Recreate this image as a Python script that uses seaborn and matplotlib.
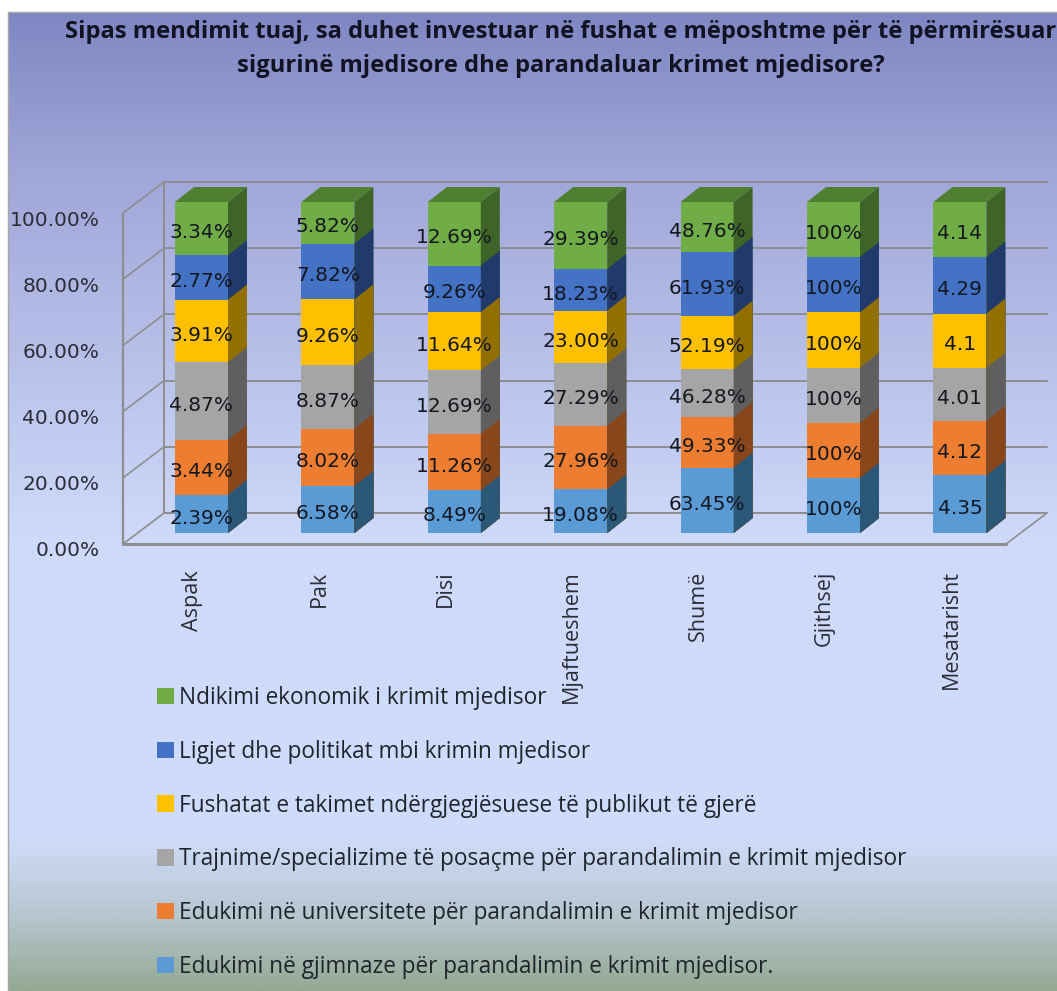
import matplotlib
matplotlib.use('Agg')
import matplotlib.pyplot as plt
import matplotlib.transforms as mtrans
from matplotlib.colors import LinearSegmentedColormap
import numpy as np
import pandas as pd
import seaborn as sns

title = 'Sipas mendimit tuaj, sa duhet investuar në fushat e mëposhtme për të përmirësuar\nsigurinë mjedisore dhe parandaluar krimet mjedisore?'
categories = ['Aspak', 'Pak', 'Disi', 'Mjaftueshem', 'Shumë', 'Gjithsej', 'Mesatarisht']

# raw values, the chart stacks them to 100%
gjimnaze = [2.39, 6.58, 8.49, 19.08, 63.45, 100, 4.35]
universitete = [3.44, 8.02, 11.26, 27.96, 49.33, 100, 4.12]
trajnime = [4.87, 8.87, 12.69, 27.29, 46.28, 100, 4.01]
fushata = [3.91, 9.26, 11.64, 23.00, 52.19, 100, 4.1]
ligjet = [2.77, 7.82, 9.26, 18.23, 61.93, 100, 4.29]
ndikimi = [3.34, 5.82, 12.69, 29.39, 48.76, 100, 4.14]

gjimnaze_txt = ['2.39%', '6.58%', '8.49%', '19.08%', '63.45%', '100%', '4.35']
universitete_txt = ['3.44%', '8.02%', '11.26%', '27.96%', '49.33%', '100%', '4.12']
trajnime_txt = ['4.87%', '8.87%', '12.69%', '27.29%', '46.28%', '100%', '4.01']
fushata_txt = ['3.91%', '9.26%', '11.64%', '23.00%', '52.19%', '100%', '4.1']
ligjet_txt = ['2.77%', '7.82%', '9.26%', '18.23%', '61.93%', '100%', '4.29']
ndikimi_txt = ['3.34%', '5.82%', '12.69%', '29.39%', '48.76%', '100%', '4.14']

names = ['Edukimi në gjimnaze për parandalimin e krimit mjedisor.',
         'Edukimi në universitete për parandalimin e krimit mjedisor',
         'Trajnime/specializime të posaçme për parandalimin e krimit mjedisor',
         'Fushatat e takimet ndërgjegjësuese të publikut të gjerë',
         'Ligjet dhe politikat mbi krimin mjedisor',
         'Ndikimi ekonomik i krimit mjedisor']
front_colors = ['#5b9bd5', '#ed7d31', '#a5a5a5', '#ffc000', '#4472c4', '#70ad47']
side_colors = ['#2c5878', '#87471b', '#5f5f5f', '#927000', '#1f3a6b', '#3f6428']
top_color = '#4f7f31'
yticks = [0, 20, 40, 60, 80, 100]
ytick_labels = ['0.00%', '20.00%', '40.00%', '60.00%', '80.00%', '100.00%']

W, H = 1057, 991
sns.set_style('white')
plt.rcParams['font.family'] = ['DejaVu Sans']

fig = plt.figure(figsize=(W / 100, H / 100), dpi=100, facecolor='white')

# background gradient
bg = fig.add_axes([8 / W, 0, 1 - 8 / W, (H - 12) / H], zorder=0)
stops = [(0, '#7f87c3'), (0.16, '#a0a6d8'), (0.54, '#cfdafa'), (0.845, '#d0dcfb'),
         (0.925, '#b6c7d0'), (1, '#94a994')]
cmap = LinearSegmentedColormap.from_list('bg', stops)
bg.imshow(np.linspace(0, 1, 500).reshape(-1, 1), aspect='auto', cmap=cmap)
bg.axis('off')
fig.add_artist(plt.Line2D([8 / W, 1], [1 - 12 / H] * 2, color='#a8a8a8', lw=1))
fig.add_artist(plt.Line2D([8 / W, 8 / W], [0, 1 - 12 / H], color='#a8a8a8', lw=1))

# pixel layout of the 3d box
left, right, floor_y, top_y = 123, 1047, 544, 170
px_x, px_y = 126.4, 3.31
ax = fig.add_axes([left / W, 1 - floor_y / H, (right - left) / W, (floor_y - top_y) / H], zorder=1)
ax.patch.set_alpha(0)

wall_dx, wall_dy = 41 / px_x, 31 / px_y
bar_dx, bar_dy = 19 / px_x, 15 / px_y
lift = 11 / px_y
bar_w = 53 / px_x
xmin, xmax = (left - 201.5) / px_x, (right - 201.5) / px_x
floor_r = xmax - wall_dx

# walls
wall = '#8e8e8e'
for t in yticks:
    ax.plot([xmin + wall_dx, xmax], [t + wall_dy] * 2, color=wall, lw=1.4, zorder=1, clip_on=False)
    ax.plot([xmin, xmin + wall_dx], [t, t + wall_dy], color=wall, lw=1.2, zorder=1, clip_on=False)
ax.plot([xmin, xmin], [0, 100], color=wall, lw=1.6, zorder=1, clip_on=False)
ax.plot([xmin + wall_dx] * 2, [wall_dy, 100 + wall_dy], color=wall, lw=1.4, zorder=1)
ax.plot([xmin, floor_r], [0, 0], color=wall, lw=2.2, zorder=1, clip_on=False)
ax.plot([floor_r, xmax], [0, wall_dy], color=wall, lw=1.2, zorder=1)

df = pd.DataFrame({'cat': categories, 'a': gjimnaze, 'b': universitete, 'c': trajnime,
                   'd': fushata, 'e': ligjet, 'f': ndikimi}).set_index('cat')
texts = [gjimnaze_txt, universitete_txt, trajnime_txt, fushata_txt, ligjet_txt, ndikimi_txt]
share = df.div(df.sum(axis=1), axis=0) * 100
cum = share.cumsum(axis=1)

# stacked by overdrawing, tallest first, so the legend comes out top to bottom
for k in range(5, -1, -1):
    col = df.columns[k]
    n0 = len(ax.patches)
    sns.barplot(x=categories, y=cum[col].values, bottom=lift, color=front_colors[k], saturation=1,
                width=bar_w, label=names[k], ax=ax, zorder=3, errorbar=None, legend=False, linewidth=0)
    for p in ax.patches[n0:]:
        x1 = p.get_x() + p.get_width()
        y0, y1 = p.get_y(), p.get_y() + p.get_height()
        ax.fill([x1, x1 + bar_dx, x1 + bar_dx, x1], [y0, y0 + bar_dy, y1 + bar_dy, y1],
                color=side_colors[k], lw=0, zorder=3)
        if k == 5:
            x0 = p.get_x()
            ax.fill([x0, x1, x1 + bar_dx, x0 + bar_dx], [y1, y1, y1 + bar_dy, y1 + bar_dy],
                    color=top_color, lw=0, zorder=3)

# data labels
for k, col in enumerate(df.columns):
    for i in range(len(categories)):
        ax.annotate(texts[k][i], (i, lift + cum[col].iloc[i] - share[col].iloc[i] / 2), xytext=(0, -3),
                    textcoords='offset points', ha='center', va='center', fontsize=14.5,
                    color='#14171f', zorder=5)

ax.set_xlim(xmin, xmax)
ax.set_ylim(0, (floor_y - top_y) / px_y)
sns.despine(ax=ax, left=True, bottom=True)
ax.set_yticks(yticks)
ax.set_yticklabels(ytick_labels, fontsize=14.5, color='#2a2d36')
ax.tick_params(axis='y', length=0, pad=17)
ax.set_xticks(range(len(categories)))
ax.set_xticklabels(categories, rotation=90, fontsize=15.5, color='#2a2d36', family='Open Sans')
ax.tick_params(axis='x', length=0, pad=19)
for lab in ax.get_yticklabels():
    lab.set_transform(lab.get_transform() + mtrans.ScaledTranslation(0, -5 / 100, fig.dpi_scale_trans))
for lab in ax.get_xticklabels():
    lab.set_transform(lab.get_transform() + mtrans.ScaledTranslation(-9 / 100, 0, fig.dpi_scale_trans))

# legend, green first
handles, labels = ax.get_legend_handles_labels()
fs = 16.3
leg = fig.legend(handles, labels, loc='upper left', bbox_to_anchor=(157 / W, 1 - 686 / H), frameon=False,
                 borderaxespad=0, borderpad=0, handlelength=17 / (fs / 0.72), handleheight=0.75,
                 handletextpad=0.22, labelspacing=1.315, prop={'family': 'Open Sans', 'size': fs})
for t in leg.get_texts():
    t.set_color('#20242c')
for h in leg.legend_handles:
    h.set_linewidth(0)

fig.text(560.5 / W, 1 - 49 / H, title, ha='center', va='center', fontsize=17.15, fontweight='bold',
         family='Open Sans', color='#111322', linespacing=1.55)

fig.savefig('out.png', dpi=100, facecolor='white')
